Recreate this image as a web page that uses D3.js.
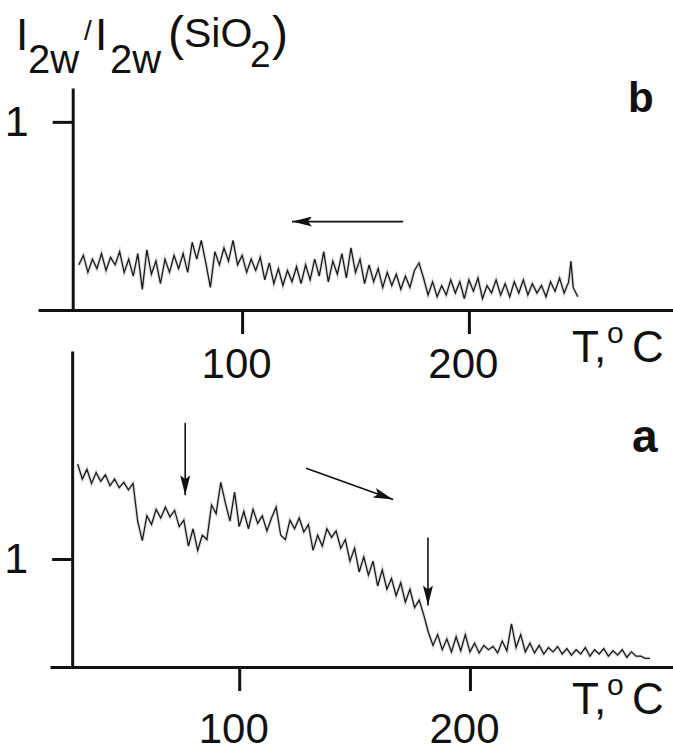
<!DOCTYPE html>
<html>
<head>
<meta charset="utf-8">
<script src="https://cdn.jsdelivr.net/npm/d3@7"></script>
<style>
  body { margin: 0; background: #fff; }
  text { font-family: "Liberation Sans", Arial, sans-serif; fill: #111; }
</style>
</head>
<body>
<div id="chart"></div>
<script>

// *** DATA ***

// panel b (cooling), temperature in °C and SHG ratio
let tempB = [28, 30, 32, 34, 36, 38, 40, 42, 44, 46, 48, 50, 52, 54, 56, 58, 60, 62, 64, 66,
  68, 70, 72, 74, 76, 78, 80, 82, 84, 86, 88, 90, 92, 94, 96, 98, 100, 102, 104, 106,
  108, 110, 112, 114, 116, 118, 120, 122, 124, 126, 128, 130, 132, 134, 136, 138, 140, 142, 144, 146,
  148, 150, 152, 154, 156, 158, 160, 162, 164, 166, 168, 170, 172, 174, 176, 178, 180, 182, 184, 186,
  188, 190, 192, 194, 196, 198, 200, 202, 204, 206, 208, 210, 212, 214, 216, 218, 220, 222, 224, 226,
  228, 230, 232, 234, 236, 238, 240, 242, 244, 245, 246, 248];
let ratioB = [0.24, 0.29, 0.20, 0.27, 0.22, 0.30, 0.21, 0.28, 0.24, 0.31, 0.20, 0.27, 0.18, 0.30, 0.11, 0.32, 0.19, 0.26, 0.14, 0.27,
  0.20, 0.29, 0.22, 0.30, 0.20, 0.36, 0.27, 0.37, 0.25, 0.12, 0.31, 0.24, 0.33, 0.26, 0.37, 0.24, 0.29, 0.20, 0.27, 0.21,
  0.28, 0.16, 0.25, 0.14, 0.22, 0.13, 0.21, 0.15, 0.23, 0.14, 0.24, 0.16, 0.27, 0.18, 0.31, 0.15, 0.26, 0.19, 0.30, 0.17,
  0.33, 0.20, 0.27, 0.14, 0.24, 0.15, 0.22, 0.12, 0.20, 0.13, 0.19, 0.11, 0.18, 0.12, 0.21, 0.25, 0.17, 0.08, 0.15, 0.07,
  0.13, 0.08, 0.16, 0.09, 0.15, 0.06, 0.16, 0.10, 0.17, 0.06, 0.13, 0.09, 0.16, 0.08, 0.14, 0.07, 0.15, 0.09, 0.16, 0.08,
  0.14, 0.09, 0.13, 0.07, 0.15, 0.10, 0.17, 0.09, 0.15, 0.26, 0.12, 0.07];

// panel a (heating)
let tempA = [30, 32, 34, 36, 38, 40, 42, 44, 46, 48, 50, 52, 54, 56, 58, 60, 62, 64, 66, 68,
  70, 72, 74, 76, 78, 80, 82, 84, 86, 88, 90, 92, 94, 96, 98, 100, 102, 104, 106, 108,
  110, 112, 114, 116, 118, 120, 122, 124, 126, 128, 130, 132, 134, 136, 138, 140, 142, 144, 146, 148,
  150, 152, 154, 156, 158, 160, 162, 164, 166, 168, 170, 172, 174, 176, 178, 180, 182, 184, 186, 188,
  190, 192, 194, 196, 198, 200, 202, 204, 206, 208, 210, 212, 214, 216, 218, 220, 222, 224, 226, 228,
  230, 232, 234, 236, 238, 240, 242, 244, 246, 248, 250, 252, 254, 256, 258, 260, 262, 264, 266, 268,
  270, 272, 274, 276, 278];
let ratioA = [1.88, 1.74, 1.83, 1.70, 1.80, 1.72, 1.78, 1.68, 1.74, 1.66, 1.71, 1.64, 1.70, 1.35, 1.17, 1.40, 1.32, 1.46, 1.38, 1.48,
  1.39, 1.45, 1.30, 1.36, 1.12, 1.28, 1.08, 1.22, 1.18, 1.50, 1.42, 1.71, 1.52, 1.35, 1.62, 1.30, 1.44, 1.28, 1.46, 1.33,
  1.40, 1.26, 1.38, 1.48, 1.22, 1.18, 1.36, 1.28, 1.38, 1.25, 1.32, 1.08, 1.22, 1.12, 1.28, 1.20, 1.26, 1.10, 1.18, 0.98,
  1.10, 0.88, 1.02, 0.85, 0.98, 0.75, 0.90, 0.72, 0.82, 0.66, 0.78, 0.60, 0.72, 0.55, 0.62, 0.48, 0.32, 0.20, 0.30, 0.16,
  0.26, 0.14, 0.28, 0.15, 0.30, 0.14, 0.22, 0.13, 0.20, 0.16, 0.19, 0.13, 0.24, 0.15, 0.40, 0.18, 0.30, 0.14, 0.22, 0.13,
  0.20, 0.12, 0.18, 0.14, 0.19, 0.12, 0.17, 0.11, 0.16, 0.12, 0.18, 0.10, 0.16, 0.12, 0.17, 0.10, 0.15, 0.11, 0.16, 0.09,
  0.14, 0.10, 0.10, 0.08, 0.08];

// tick values
let xTicks = [100, 200];
let yTicks = [1];

// annotation arrows, in data units [T1, v1, T2, v2]
let arrowsB = [[171, 0.47, 122, 0.47]];
let arrowsA = [[76.6, 2.26, 76.6, 1.59], [129, 1.84, 166.7, 1.55], [181.8, 1.2, 181.8, 0.57]];

// *** SETTINGS ***
let width = 673, height = 752;
let ink = "#111";

let svg = d3.select("#chart").append("svg")
  .attr("width", width)
  .attr("height", height);

svg.append("defs").append("marker")
  .attr("id", "head")
  .attr("markerUnits", "userSpaceOnUse")
  .attr("viewBox", "0 0 20 10")
  .attr("refX", 20).attr("refY", 5)
  .attr("markerWidth", 20).attr("markerHeight", 10)
  .attr("orient", "auto")
  .append("path")
    .attr("d", "M0,0 L20,5 L0,10 L4,5 Z")
    .attr("fill", ink);

function drawPanel(cfg) {
  let x = d3.scaleLinear().domain(cfg.xDomain).range(cfg.xRange);
  let y = d3.scaleLinear().domain(cfg.yDomain).range(cfg.yRange);
  let g = svg.append("g");

  //x axis
  let xAxis = g.append("g")
    .attr("transform", "translate(0," + cfg.yRange[0] + ")")
    .call(d3.axisBottom(x).tickValues(xTicks).tickSize(24).tickSizeOuter(0).tickPadding(14));
  xAxis.select(".domain").attr("stroke", ink).attr("stroke-width", 3);
  xAxis.selectAll(".tick line").attr("stroke", ink).attr("stroke-width", 3);
  xAxis.selectAll(".tick text")
    .attr("fill", ink)
    .attr("dx", -6)
    .attr("dy", cfg.labelDy)
    .style("font-size", "42px")
    .style("font-family", "'Liberation Sans', Arial, sans-serif");

  //y axis
  let yAxis = g.append("g")
    .attr("transform", "translate(" + x(cfg.yAxisAt) + ",0)")
    .call(d3.axisLeft(y).tickValues(yTicks).tickSize(20).tickSizeOuter(0).tickPadding(24).tickFormat(d3.format("d")));
  yAxis.select(".domain").attr("stroke", ink).attr("stroke-width", 3);
  yAxis.selectAll(".tick line").attr("stroke", ink).attr("stroke-width", 3);
  yAxis.selectAll(".tick text")
    .attr("fill", ink)
    .style("font-size", "43px")
    .style("font-family", "'Liberation Sans', Arial, sans-serif");

  //trace
  let line = d3.line().x(d => x(d[0])).y(d => y(d[1]));
  let pts = d3.zip(cfg.temps, cfg.vals);
  g.append("path")
    .datum(pts)
    .attr("d", line)
    .attr("fill", "none")
    .attr("stroke", "#bbb")
    .attr("stroke-width", 3.5)
    .attr("opacity", 0.45);
  g.append("path")
    .datum(pts)
    .attr("d", line)
    .attr("fill", "none")
    .attr("stroke", "#1a1a1a")
    .attr("stroke-width", 1.3)
    .attr("stroke-linejoin", "miter");

  //arrows
  g.selectAll("line.arrow")
    .data(cfg.arrows)
    .enter()
    .append("line")
      .attr("class", "arrow")
      .attr("x1", d => x(d[0])).attr("y1", d => y(d[1]))
      .attr("x2", d => x(d[2])).attr("y2", d => y(d[3]))
      .attr("stroke", ink)
      .attr("stroke-width", 1.6)
      .attr("marker-end", "url(#head)");

  //T, oC label
  let t = g.append("text").attr("y", cfg.tY);
  t.append("tspan").attr("x", 572).style("font-size", "44px").text("T,");
  t.append("tspan").attr("x", 607).attr("dy", -19).style("font-size", "30px").text("o");
  t.append("tspan").attr("x", 632).attr("dy", 19).style("font-size", "44px").text("C");

  //panel letter
  g.append("text")
    .attr("x", cfg.letterX)
    .attr("y", cfg.letterY)
    .style("font-size", cfg.letterSize)
    .style("font-weight", "bold")
    .text(cfg.letter);
}

drawPanel({
  xDomain: [10, 290], xRange: [38, 673],
  yDomain: [0, 1.18], yRange: [310, 88],
  yAxisAt: 25.3,
  temps: tempB, vals: ratioB, arrows: arrowsB,
  labelDy: "0.71em", tY: 362,
  letter: "b", letterX: 628, letterY: 112, letterSize: "42px"
});

drawPanel({
  xDomain: [18, 288], xRange: [50, 673],
  yDomain: [0, 2.926], yRange: [667, 351],
  yAxisAt: 27.6,
  temps: tempA, vals: ratioA, arrows: arrowsA,
  labelDy: "0.9em", tY: 714,
  letter: "a", letterX: 632, letterY: 452, letterSize: "46px"
});

//y label I2w/I2w(SiO2)
let yl = svg.append("text");
yl.append("tspan").attr("x", 16).attr("y", 50).style("font-size", "44px").text("I");
yl.append("tspan").attr("x", 28).attr("y", 73).style("font-size", "40px").text("2w");
yl.append("tspan").attr("x", 84).attr("y", 40).style("font-size", "28px").text("/");
yl.append("tspan").attr("x", 95).attr("y", 50).style("font-size", "44px").text("I");
yl.append("tspan").attr("x", 110).attr("y", 73).style("font-size", "40px").text("2w");
yl.append("tspan").attr("x", 168).attr("y", 50).style("font-size", "48px").text("(");
yl.append("tspan").attr("x", 184).attr("y", 47).style("font-size", "41px").text("SiO");
yl.append("tspan").attr("x", 250).attr("y", 67).style("font-size", "37px").text("2");
yl.append("tspan").attr("x", 272).attr("y", 50).style("font-size", "48px").text(")");

</script>
</body>
</html>
